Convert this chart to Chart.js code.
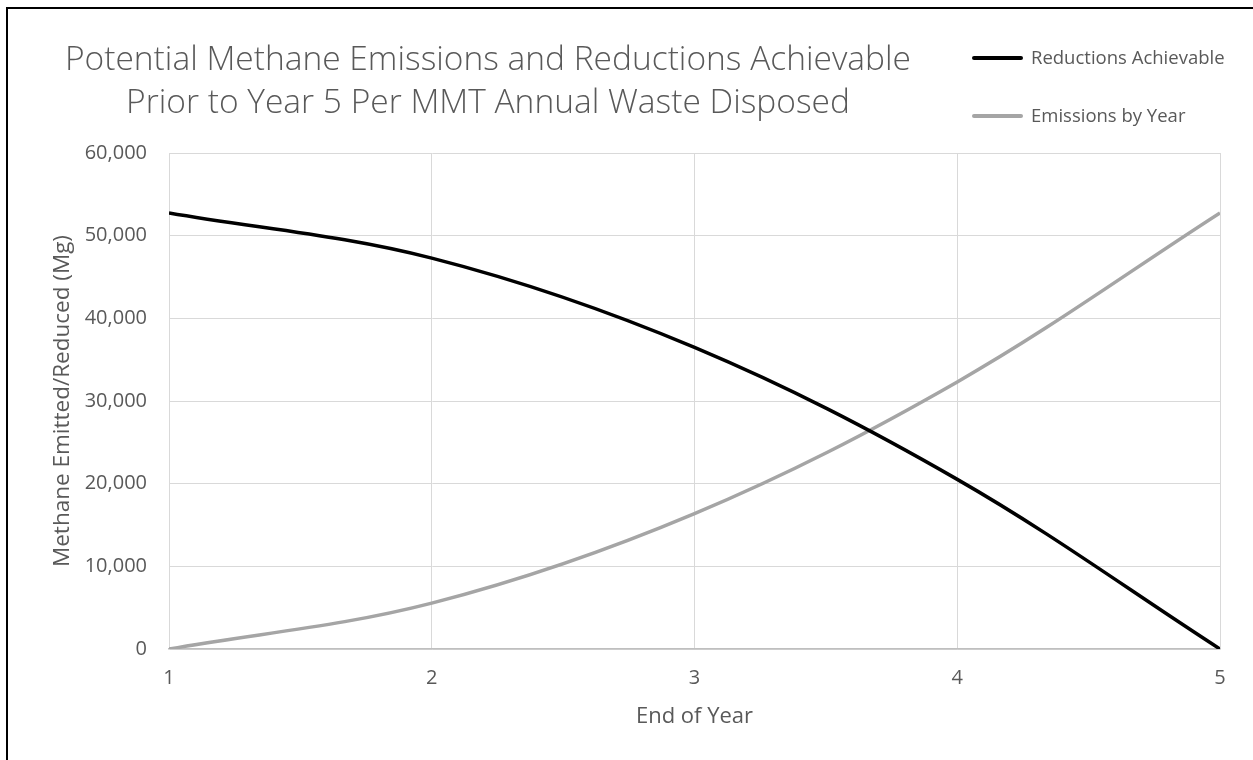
<!DOCTYPE html>
<html>
<head>
<meta charset="utf-8">
<script src="https://cdn.jsdelivr.net/npm/chart.js@4.4.1/dist/chart.umd.min.js"></script>
<style>
  html, body { margin: 0; padding: 0; background: #fff; overflow: hidden; }
  #wrap { position: relative; width: 1253px; height: 760px; }
  #frame { position: absolute; left: 6px; top: 7px; width: 1400px; height: 900px;
           border-left: 2px solid #000; border-top: 2px solid #000; }
  #chart { position: absolute; left: 0; top: 0; }
  .title { position: absolute; left: 0; width: 976px; text-align: center; white-space: nowrap;
           font-family: "Open Sans", sans-serif; font-weight: 300; font-size: 33.5px;
           line-height: 44px; color: #595959; }
  .leg { position: absolute; left: 972px; height: 24px; font-family: "Open Sans", sans-serif;
         font-size: 18.5px; line-height: 24px; color: #595959; white-space: nowrap; }
  .leg span.sw { display: inline-block; width: 51px; height: 4px; border-radius: 2px;
                 vertical-align: middle; margin-right: 8px; position: relative; top: -1px; }
</style>
</head>
<body>
<div id="wrap">
  <canvas id="chart" width="1253" height="760"></canvas>
  <div id="frame"></div>
  <div class="title" style="top:35px">Potential Methane Emissions and Reductions Achievable</div>
  <div class="title" style="top:78px">Prior to Year 5 Per MMT Annual Waste Disposed</div>
  <div class="leg" style="top:45px"><span class="sw" style="background:#000"></span>Reductions Achievable</div>
  <div class="leg" style="top:103px"><span class="sw" style="background:#a5a5a5"></span>Emissions by Year</div>
</div>
<script>
// valeurs (Mg de méthane)
const years = [1, 2, 3, 4, 5];
const reductions = [52750, 47280, 36480, 20520, 0];
const emissions = [0, 5550, 16380, 32310, 52750];
const yMin = 0, yMax = 60000, yStep = 10000;

const textColor = '#595959';
const gridColor = '#d9d9d9';

function toPoints(values) {
    return years.map((yr, i) => ({ x: yr, y: values[i] }));
}

const ctx = document.getElementById('chart').getContext('2d');

new Chart(ctx, {
    type: 'line',
    data: {
        datasets: [{
            label: 'Reductions Achievable',
            data: toPoints(reductions),
            borderColor: '#000000',
            borderWidth: 3.5,
            pointRadius: 0,
            tension: 0.35,
            fill: false
        }, {
            label: 'Emissions by Year',
            data: toPoints(emissions),
            borderColor: '#a5a5a5',
            borderWidth: 3.5,
            pointRadius: 0,
            tension: 0.35,
            fill: false
        }]
    },
    options: {
        responsive: false,
        animation: false,
        layout: { padding: { top: 153, right: 33, bottom: 0, left: 0 } },
        scales: {
            x: {
                type: 'linear',
                min: years[0],
                max: years[years.length - 1],
                afterFit: s => { s.height = 111; },
                ticks: {
                    stepSize: 1,
                    color: textColor,
                    padding: 17,
                    font: { family: "'Open Sans', sans-serif", size: 20 }
                },
                grid: { color: gridColor, drawTicks: false },
                border: { color: '#bfbfbf', width: 1.5 },
                title: {
                    display: true,
                    text: 'End of Year',
                    color: textColor,
                    font: { family: "'Open Sans', sans-serif", size: 22 },
                    padding: { top: 30, bottom: 30 }
                }
            },
            y: {
                min: yMin,
                max: yMax,
                afterFit: s => { s.width = 169; },
                ticks: {
                    stepSize: yStep,
                    color: textColor,
                    padding: 22,
                    font: { family: "'Open Sans', sans-serif", size: 20 },
                    callback: v => v.toLocaleString('en-US')
                },
                grid: { color: gridColor, drawTicks: false },
                border: { color: gridColor },
                title: {
                    display: true,
                    text: 'Methane Emitted/Reduced (Mg)',
                    color: textColor,
                    font: { family: "'Open Sans', sans-serif", size: 22.5 },
                    padding: { top: 49, bottom: 49 }
                }
            }
        },
        plugins: {
            legend: { display: false },
            tooltip: { enabled: false }
        }
    }
});
</script>
</body>
</html>
